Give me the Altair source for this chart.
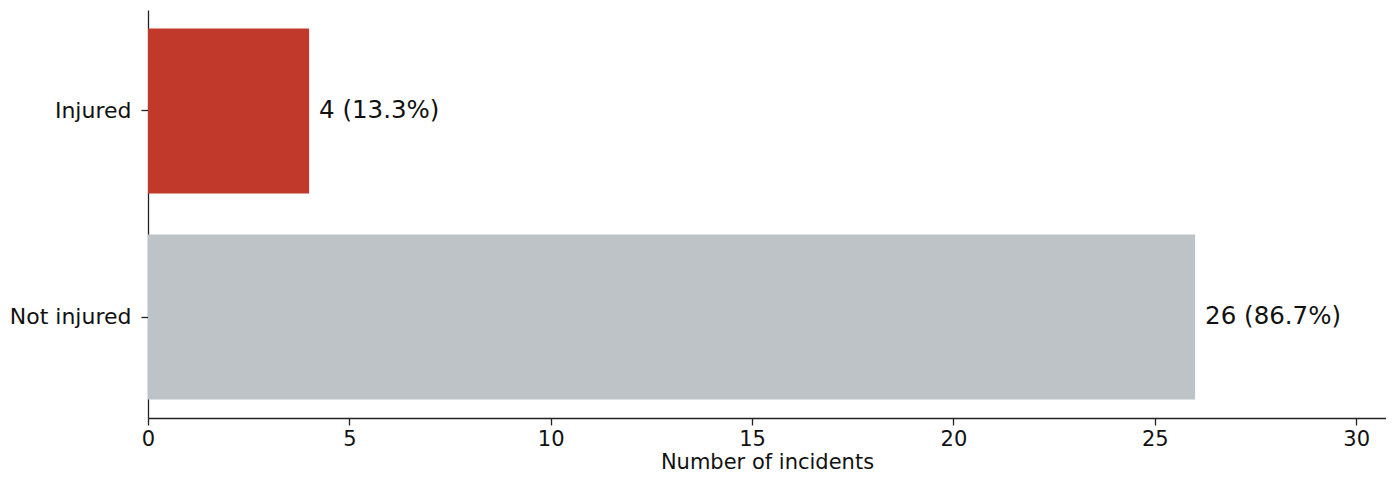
import altair as alt
import pandas as pd

categories = ["Injured", "Not injured"]
counts = [4, 26]
labels = ["4 (13.3%)", "26 (86.7%)"]
colors = ["#c0392b", "#bdc3c7"]

df = pd.DataFrame({"cat": categories, "n": counts, "label": labels, "color": colors})

FONT = "DejaVu Sans"

x = alt.X("n:Q", title="Number of incidents",
          scale=alt.Scale(domain=[0, 30.74], nice=False, zero=True),
          axis=alt.Axis(values=[0, 5, 10, 15, 20, 25, 30], format="d", grid=False,
                        labelFlush=False, labelPadding=3, titlePadding=2))
y = alt.Y("cat:N", title=None, sort=categories,
          scale=alt.Scale(paddingInner=0.2, paddingOuter=0.09),
          axis=alt.Axis(grid=False, labelPadding=10, labelFontSize=22))

bars = alt.Chart(df).mark_bar().encode(
    x=x, y=y, color=alt.Color("color:N", scale=None)
)
text = alt.Chart(df).mark_text(align="left", baseline="middle", dx=10,
                               fontSize=24.5, font=FONT, color="#111").encode(
    x=x, y=y, text="label:N"
)

chart = (bars + text).properties(
    width=1238, height=408,
    autosize=alt.AutoSizeParams(type="none"),
    padding={"left": 140, "top": 2, "right": 0, "bottom": 54},
).configure(font=FONT).configure_view(stroke=None).configure_axis(
    domainColor="#222", tickColor="#222", tickSize=7, domainWidth=1.3, tickWidth=1.3,
    labelFontSize=21, titleFontSize=21, labelColor="#111",
    titleColor="#111", labelFont=FONT, titleFont=FONT,
    titleFontWeight="normal",
)

chart.save("out.html", embed_options={"renderer": "svg", "actions": False})
